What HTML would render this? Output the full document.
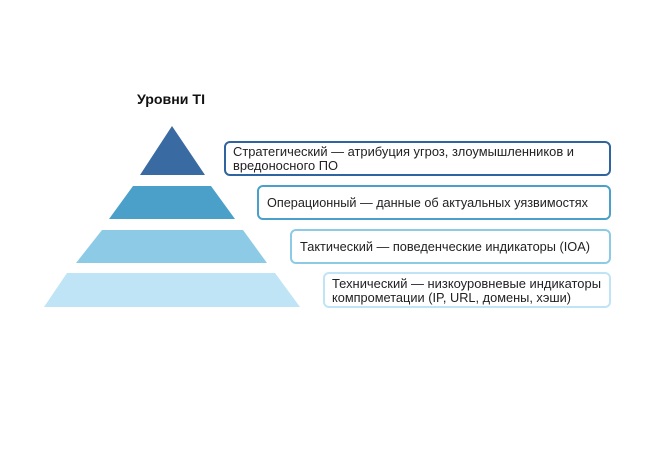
<!DOCTYPE html>
<html><head><meta charset="utf-8"><style>html,body{margin:0;padding:0;background:#fff}svg{display:block}</style></head>
<body>
<svg width="650" height="460" viewBox="0 0 650 460" xmlns="http://www.w3.org/2000/svg" font-family="Liberation Sans, DejaVu Sans, sans-serif">
<rect width="650" height="460" fill="#fff"/>
<text x="137" y="104" font-size="14" font-weight="bold" fill="#111" textLength="68" lengthAdjust="spacingAndGlyphs">Уровни TI</text>
<polygon points="172,126 205,175 140,175" fill="#3a6aa2"/>
<polygon points="133,186 211,186 235,219 109,219" fill="#4ba0ca"/>
<polygon points="102,230 243,230 267,263 76,263" fill="#8dcae6"/>
<polygon points="67,273 275,273 300,307 44,307" fill="#bfe4f6"/>
<rect x="225" y="142" width="385" height="33" rx="5" fill="#fff" stroke="#2f64a0" stroke-width="2"/>
<rect x="258" y="186" width="352" height="33" rx="5" fill="#fff" stroke="#4aa0cb" stroke-width="2"/>
<rect x="291" y="230" width="319" height="33" rx="5" fill="#fff" stroke="#8dcae6" stroke-width="2"/>
<rect x="324" y="273" width="286" height="34" rx="5" fill="#fff" stroke="#c0e4f6" stroke-width="2"/>
<g font-size="13" fill="#222">
<text x="233" y="156" textLength="341" lengthAdjust="spacingAndGlyphs">Стратегический —  атрибуция угроз, злоумышленников и</text>
<text x="233" y="170" textLength="105" lengthAdjust="spacingAndGlyphs">вредоносного ПО</text>
<text x="267" y="207" textLength="321" lengthAdjust="spacingAndGlyphs">Операционный — данные об актуальных уязвимостях</text>
<text x="300" y="251" textLength="290" lengthAdjust="spacingAndGlyphs">Тактический — поведенческие индикаторы (IOA)</text>
<text x="332" y="288" textLength="269" lengthAdjust="spacingAndGlyphs">Технический — низкоуровневые индикаторы</text>
<text x="332" y="302" textLength="239" lengthAdjust="spacingAndGlyphs">компрометации (IP, URL, домены, хэши)</text>
</g>
</svg>
</body></html>
